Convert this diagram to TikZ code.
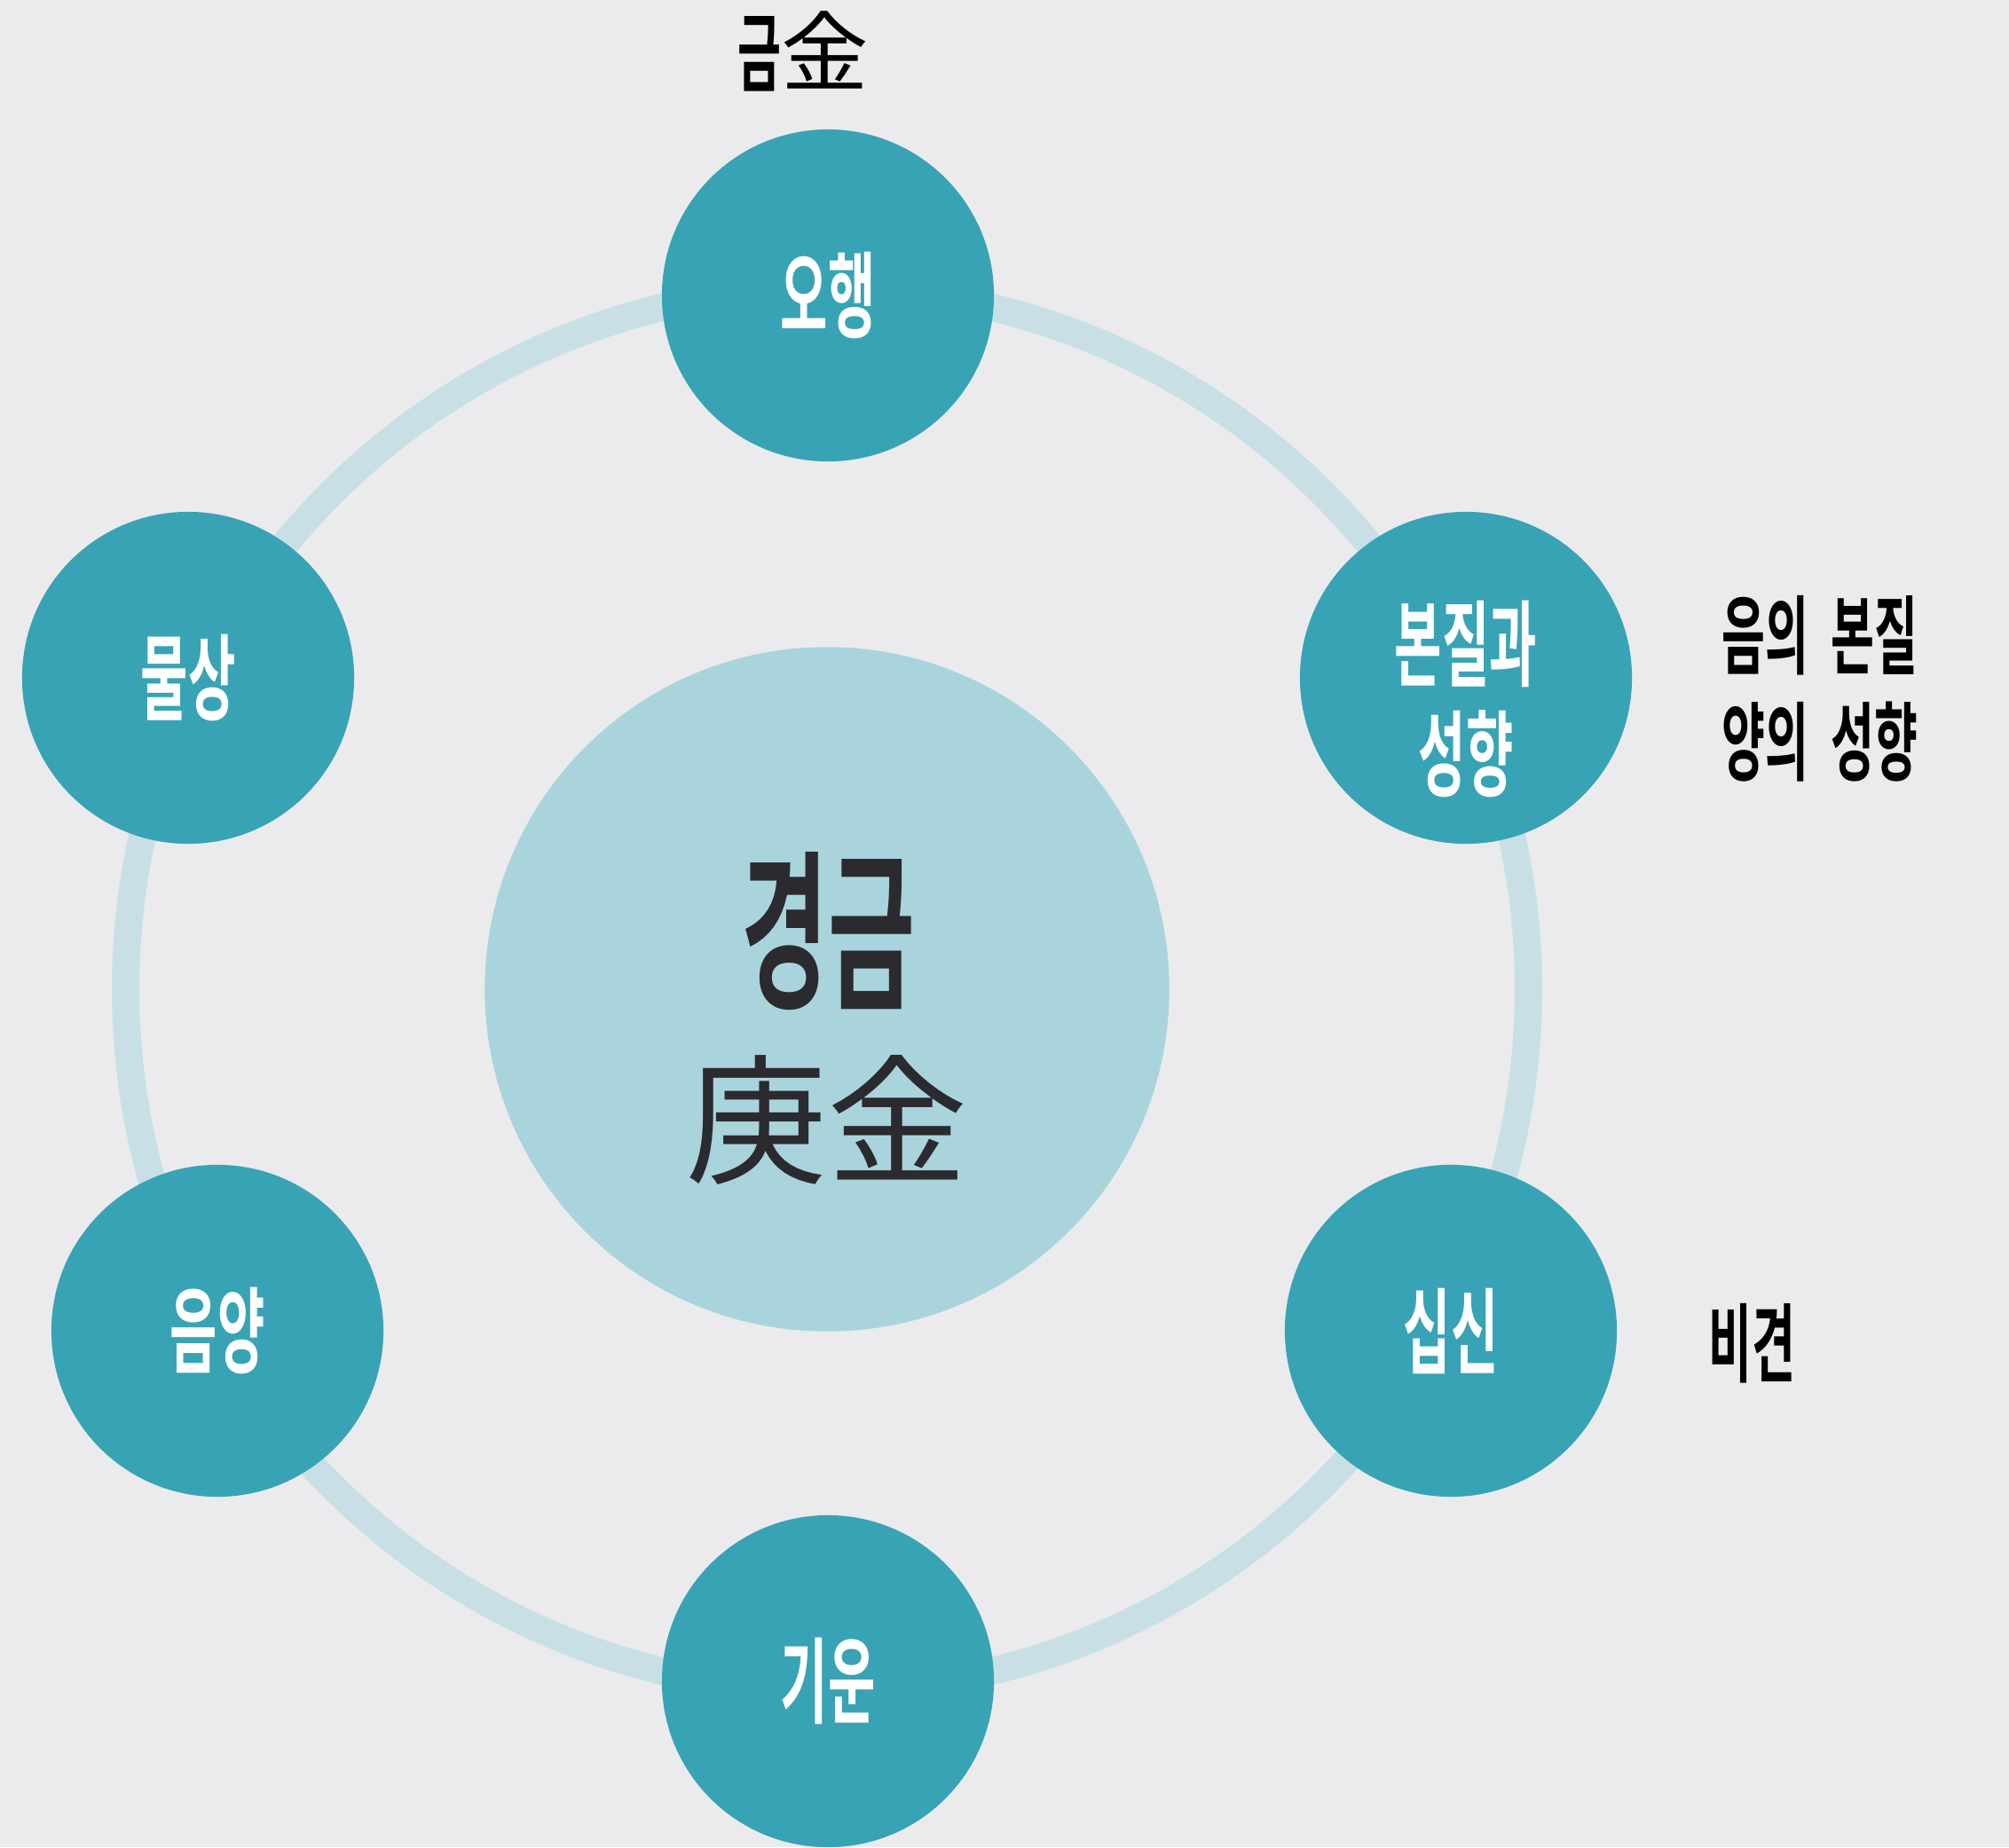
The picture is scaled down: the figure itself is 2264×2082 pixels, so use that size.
\documentclass[tikz,border=0pt]{standalone}
\usepackage{fontspec}
\newfontfamily\krb[FakeStretch=0.55]{Noto Sans CJK KR Bold}
\newfontfamily\han{Noto Sans CJK KR}
\definecolor{bgpaper}{HTML}{EBEBED}
\definecolor{teal}{HTML}{38A3B5}
\definecolor{centerblue}{HTML}{AAD4DC}
\definecolor{ringblue}{HTML}{C8E0E5}
\definecolor{inkdark}{HTML}{2B2A2F}
\newcommand{\wsp}{\hspace{7pt}}
\tikzset{
  petal/.style={circle, fill=teal, minimum size=3.74cm, inner sep=0pt,
    text=white, align=center, font=\krb\fontsize{30pt}{35pt}\selectfont},
  petaltext/.style={text=white, align=center, inner sep=0pt,
    font=\krb\fontsize{30pt}{35pt}\selectfont},
  outlabel/.style={text=black, align=left, inner sep=0pt,
    font=\krb\fontsize{27.5pt}{34pt}\selectfont},
}
\begin{document}
\begin{tikzpicture}[x=0.01cm, y=-0.01cm]
  \fill[bgpaper] (0,0) rectangle (2264,2082);
  \useasboundingbox (0,0) rectangle (2264,2082);
  % ring
  \coordinate (c) at (932,1115);
  \draw[ringblue, line width=0.31cm] (c) circle[radius=7.9cm];
  % center
  \node[circle, fill=centerblue, minimum size=7.71cm, inner sep=0pt] (center) at (c) {};
  \node[text=inkdark, inner sep=0pt, font=\krb\fontsize{55pt}{60pt}\selectfont] (kyeong) at (933,1050) {경금};
  \node[text=inkdark, inner sep=0pt, font=\han\fontsize{45pt}{50pt}\selectfont] (hanja) at (932,1262) {庚金};
  % petals
  \node[petal] (ohaeng) at (933,333) {오행};
  \node[petal] (bonjil) at (1652,764) {};
  \node[petaltext] (bonjiltext) at (1652,788) {본질과\\성향};
  \node[petal] (sipsin) at (1635,1500) {십신};
  \node[petal] (giun) at (933,1895) {기운};
  \node[petal] (eumyang) at (245,1500) {음양};
  \node[petal] (mulsang) at (212,764) {물상};
  % outside labels
  \node[text=black, inner sep=0pt] (geum) at (905,58) {{\krb\fontsize{27.5pt}{34pt}\selectfont 금}{\han\fontsize{28pt}{34pt}\selectfont 金}};
  \node[outlabel, anchor=west] (bonjilout) at (1940,776) {음의\wsp 본질\\양의\wsp 성향};
  \node[outlabel, anchor=west] (bigyeon) at (1925,1514) {비견};
\end{tikzpicture}
\end{document}
